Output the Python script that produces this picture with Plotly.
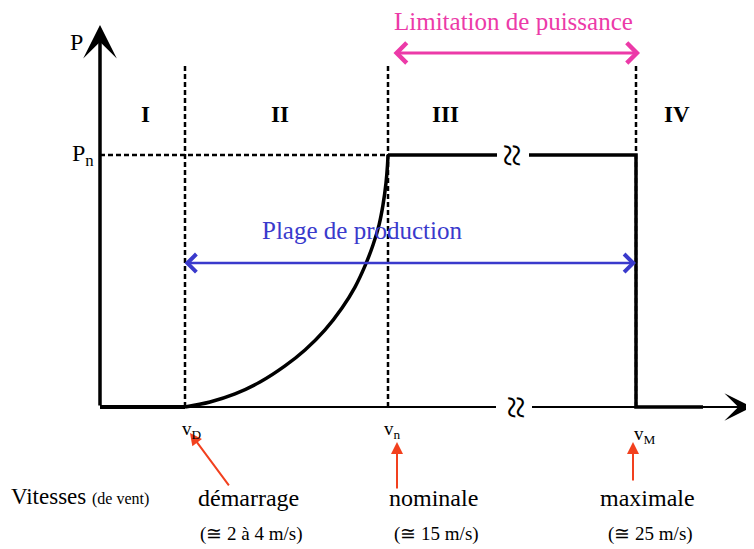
import plotly.graph_objects as go

# ---- schematic data (x: schematic wind-speed position, y: P / Pn) ----
V_D = 85          # start-up speed position
V_N = 288         # nominal speed position
V_M = 536         # cut-out speed position
P_N = 1.0         # nominal power

# power curve in zone II
curve_v = [85, 110, 135, 160, 185, 205, 225, 242, 255, 265, 273, 279, 283, 286, 287.5, 288]
curve_p = [0, 0.020, 0.052, 0.099, 0.163, 0.226, 0.306, 0.393, 0.476, 0.560,
           0.643, 0.722, 0.802, 0.889, 0.960, 1.0]

# zone I (no production)
idle_v = [0, V_D]
idle_p = [0, 0]

# rated segment (with break) and cut-out
rated_v = [V_N, 397, None, 429, V_M, V_M, 603]
rated_p = [P_N, P_N, None, P_N, P_N, 0, 0]

# x axis segments (with break)
axis_v = [0, 396, None, 432, 640]
axis_p = [0, 0, None, 0, 0]

zone_labels = ["I", "II", "III", "IV"]
zone_pos = [45, 180, 345, 577]

speed_names = ["démarrage", "nominale", "maximale"]
speed_values = ["(≅ 2 à 4 m/s)", "(≅ 15 m/s)", "(≅ 25 m/s)"]
speed_text_pos = [148, 333, 547]

SERIF = "Liberation Serif, Times New Roman, serif"
BLACK = "#000000"
MAGENTA = "#ec3aa8"
BLUE = "#3a3acc"
RED = "#f2401e"

fig = go.Figure()

# dashed guides
for v in [V_D, V_N, V_M]:
    fig.add_trace(go.Scatter(x=[v, v], y=[0, 1.365], mode="lines",
                             line=dict(color=BLACK, width=2.5, dash="5px,3px"),
                             hoverinfo="skip", showlegend=False))
fig.add_trace(go.Scatter(x=[0, V_N], y=[P_N, P_N], mode="lines",
                         line=dict(color=BLACK, width=2.5, dash="5px,3px"),
                         hoverinfo="skip", showlegend=False))

# x axis line
fig.add_trace(go.Scatter(x=axis_v, y=axis_p, mode="lines",
                         line=dict(color=BLACK, width=2), hoverinfo="skip",
                         showlegend=False, connectgaps=False))

# power curve
fig.add_trace(go.Scatter(x=idle_v, y=idle_p, mode="lines",
                         line=dict(color=BLACK, width=4),
                         hoverinfo="skip", showlegend=False))
fig.add_trace(go.Scatter(x=curve_v, y=curve_p, mode="lines",
                         line=dict(color=BLACK, width=3.5, shape="spline", smoothing=1.0),
                         hoverinfo="skip", showlegend=False))
fig.add_trace(go.Scatter(x=rated_v, y=rated_p, mode="lines",
                         line=dict(color=BLACK, width=3.5), hoverinfo="skip",
                         showlegend=False, connectgaps=False))

ann = []
# axis arrows
ann.append(dict(x=0, y=1.516, ax=0, ay=0, xref="x", yref="y", axref="x", ayref="y",
                showarrow=True, arrowhead=3, arrowwidth=3.5, arrowsize=1.6,
                arrowcolor=BLACK, text=""))
ann.append(dict(x=652, y=0, ax=600, ay=0, xref="x", yref="y", axref="x", ayref="y",
                showarrow=True, arrowhead=3, arrowwidth=2, arrowsize=2.3,
                arrowcolor=BLACK, text=""))
# double arrows
ann.append(dict(x=540, y=1.405, ax=292, ay=1.405, xref="x", yref="y", axref="x", ayref="y",
                showarrow=True, arrowhead=4, startarrowhead=4, arrowside="end+start",
                arrowwidth=3, arrowsize=1.3, startarrowsize=1.3,
                arrowcolor=MAGENTA, text=""))
ann.append(dict(x=536, y=0.571, ax=83, ay=0.571, xref="x", yref="y", axref="x", ayref="y",
                showarrow=True, arrowhead=4, startarrowhead=4, arrowside="end+start",
                arrowwidth=2.5, arrowsize=1.4, startarrowsize=1.4,
                arrowcolor=BLUE, text=""))
# red pointer arrows
ann.append(dict(x=90, y=-0.103, ax=130, ay=-0.317, xref="x", yref="y", axref="x", ayref="y",
                showarrow=True, arrowhead=2, arrowwidth=2, arrowsize=1.2,
                arrowcolor=RED, text=""))
ann.append(dict(x=297, y=-0.139, ax=297, ay=-0.329, xref="x", yref="y", axref="x", ayref="y",
                showarrow=True, arrowhead=2, arrowwidth=2, arrowsize=1.2,
                arrowcolor=RED, text=""))
ann.append(dict(x=533, y=-0.139, ax=533, ay=-0.298, xref="x", yref="y", axref="x", ayref="y",
                showarrow=True, arrowhead=2, arrowwidth=2, arrowsize=1.2,
                arrowcolor=RED, text=""))

def txt(x, y, s, size, color=BLACK, xanchor="center", angle=0):
    ann.append(dict(x=x, y=y, xref="x", yref="y", text=s, showarrow=False,
                    xanchor=xanchor, yanchor="middle", textangle=angle,
                    font=dict(family=SERIF, size=size, color=color)))

txt(-24, 1.45, "P", 24)
txt(-4, 1.0, "P<sub>n</sub>", 24, xanchor="right")
for lab, pos in zip(zone_labels, zone_pos):
    txt(pos, 1.159, "<b>" + lab + "</b>", 23)
txt(413, 1.53, "Limitation de puissance", 25, MAGENTA)
txt(262, 0.70, "Plage de production", 25, BLUE)

txt(V_D + 7, -0.09, "v<sub>D</sub>", 19)
txt(V_N + 4, -0.09, "v<sub>n</sub>", 19)
txt(V_M + 9, -0.11, "v<sub>M</sub>", 19)

# break marks
txt(412, P_N, "≈", 42, angle=90)
txt(416, 0, "≈", 42, angle=90)

txt(-91, -0.355, "Vitesses <span style='font-size:16px'>(de vent)</span>", 23, xanchor="left")
for name, val, pos in zip(speed_names, speed_values, speed_text_pos):
    txt(pos, -0.36, name, 24)
    txt(pos + 3, -0.505, val, 19)

fig.update_layout(
    annotations=ann,
    width=754, height=549, autosize=False,
    margin=dict(l=0, r=0, t=0, b=0),
    paper_bgcolor="white", plot_bgcolor="white",
    # the page body adds an 8 px offset; ranges compensate so the drawing lands in place
    xaxis=dict(range=[-92, 662], visible=False, fixedrange=True),
    yaxis=dict(range=[-0.5952, 1.5833], visible=False, fixedrange=True),
    showlegend=False,
)

fig.write_html("out.html")
